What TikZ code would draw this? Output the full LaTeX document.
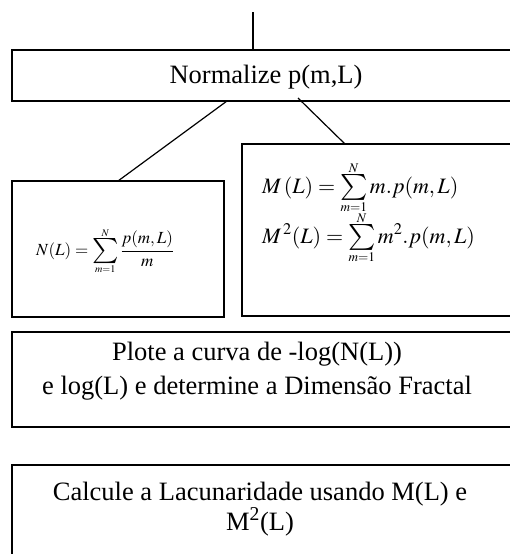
\documentclass[tikz,border=0pt]{standalone}
\usepackage{mathptmx}
\usepackage{exscale}
\usepackage{graphicx}
\usepackage[no-math]{fontspec}
\setmainfont{Liberation Serif}
\usetikzlibrary{calc}
\newcommand{\lsum}[3][1.25]{\mathop{\vcenter{\offinterlineskip\halign{\hfil##\hfil\cr$\scriptscriptstyle #3$\cr\noalign{\kern1.5pt}\scalebox{#1}{$\textstyle\sum$}\cr\noalign{\kern2pt}$\scriptscriptstyle #2$\cr}}}}
\tikzset{
  box/.style={draw, line width=1.2pt, rectangle, anchor=north west, inner sep=0pt, outer sep=0pt},
  link/.style={line width=1.2pt},
  txt/.style={font=\fontsize{26.5}{34}\selectfont, align=center, inner sep=0pt},
  frm/.style={inner sep=0pt}
}
\begin{document}
\begin{tikzpicture}[x=1pt,y=-1pt]
\useasboundingbox (0,0) rectangle (510,554);
\clip (0,0) rectangle (510,554);
% boxes
\node[box, minimum width=510pt, minimum height=51pt] (norm) at (12,50) {};
\node[box, minimum width=212pt, minimum height=136pt] (nbox) at (12,181) {};
\node[box, minimum width=280pt, minimum height=172pt] (mbox) at (242,144) {};
\node[box, minimum width=510pt, minimum height=95pt] (plot) at (12,332) {};
\node[box, minimum width=510pt, minimum height=110pt] (calc) at (12,465) {};
% texts
\node[txt] (tnorm) at (266,77) {Normalize p(m,L)};
\node[txt] (tplot) at (257,371) {Plote a curva de -log(N(L))\\e log(L) e determine a Dimensão Fractal};
\node[txt, font=\fontsize{26.5}{30}\selectfont] (tcalc) at (260,509) {Calcule a Lacunaridade usando M(L) e\\M\textsuperscript{2}(L)};
\node[frm, anchor=west, font=\fontsize{17}{21}\selectfont] (fn) at (36,251) {$\displaystyle N(L)=\lsum[1.45]{m=1}{N}\frac{p(m,L)}{m}$};
\node[frm, anchor=west, font=\fontsize{22}{26}\selectfont] (fm1) at (262,188) {$\displaystyle M\,(L)=\lsum{m=1}{N} m.p(m,L)$};
\node[frm, anchor=west, font=\fontsize{22}{26}\selectfont] (fm2) at (262,238) {$\displaystyle M^{\,2}(L)=\lsum{m=1}{N} m^{2}.p(m,L)$};
% connectors
\coordinate (in) at (253,12);
\draw[link] (in) -- (in |- norm.north);
\draw[link] ($(norm.south west)+(215,0)$) -- ($(nbox.north west)+(106,0)$);
\draw[link] ($(norm.south west)+(286,-3)$) -- ($(mbox.north west)+(103,0)$);
\draw[link] ($(nbox.south west)+(101,0)$) -- ($(nbox.south west)+(101,0)$ |- plot.north);
\draw[link] ($(mbox.south west)+(126,0)$) -- ($(mbox.south west)+(126,0)$ |- plot.north);
\draw[link] ($(plot.south west)+(241,0)$) -- ($(plot.south west)+(241,0)$ |- calc.north);
\end{tikzpicture}
\end{document}
